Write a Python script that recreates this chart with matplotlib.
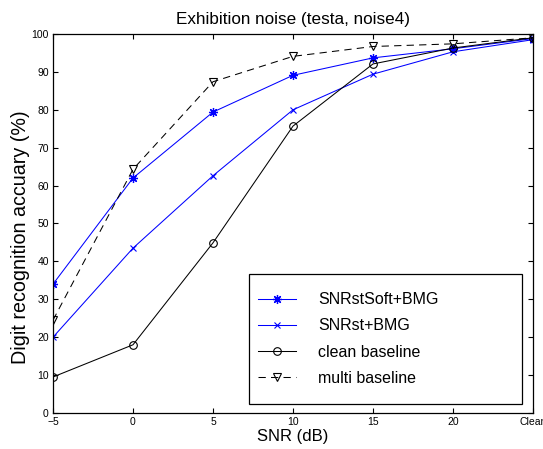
import matplotlib
matplotlib.use("Agg")
import matplotlib.pyplot as plt
from matplotlib.patches import Rectangle

plt.rcParams['font.family'] = ['Liberation Sans', 'DejaVu Sans']

snr_positions = [-5, 0, 5, 10, 15, 20, 25]
tick_labels = ['\u22125', '0', '5', '10', '15', '20', 'Clean']

snrst_soft_bmg = [34.0, 62.0, 79.4, 89.1, 93.7, 96.1, 98.8]
snrst_bmg = [20.0, 43.5, 62.6, 80.0, 89.4, 95.3, 98.5]
clean_baseline = [9.5, 18.0, 44.9, 75.7, 92.1, 96.3, 99.0]
multi_baseline = [24.5, 64.3, 87.4, 94.1, 96.7, 97.4, 99.0]

fig = plt.figure(figsize=(5.43, 4.49), dpi=100)
ax = fig.add_axes([0.0976, 0.0802, 0.884, 0.8441])

asterisk = (8, 2, 0)
lw = 0.75
ax.plot(snr_positions, snrst_soft_bmg, color='blue', marker=asterisk, ms=6.5,
        lw=lw, mew=0.9, label='SNRstSoft+BMG')
ax.plot(snr_positions, snrst_bmg, color='blue', marker='x', ms=4.5, lw=lw,
        mew=0.8, label='SNRst+BMG')
ax.plot(snr_positions, clean_baseline, color='black', marker='o', ms=5.5,
        lw=lw, mew=0.8, mfc='none', label='clean baseline')
ax.plot(snr_positions, multi_baseline, color='black', marker='v', ms=6,
        lw=lw, mew=0.8, mfc='none', ls=(0, (7, 5)), label='multi baseline')

ax.set_xlim(-5, 25)
ax.set_ylim(0, 100)
ax.set_xticks(snr_positions)
ax.set_xticklabels(tick_labels)
ax.set_yticks(range(0, 101, 10))
ax.tick_params(direction='in', top=True, right=True, length=3.5, width=0.8,
               labelsize=7.5, pad=3)
for s in ax.spines.values():
    s.set_linewidth(0.9)

ax.set_title('Exhibition noise (testa, noise4)', fontsize=12.3, pad=7)
ax.set_xlabel('SNR (dB)', fontsize=12, labelpad=1)
ax.set_ylabel('Digit recognition accuary (%)', fontsize=14.2)
ax.yaxis.set_label_coords(-0.048, 0.464)

# legend box (frame drawn separately so its padding can differ per side)
box_x0, box_y0, box_w, box_h = 0.408, 0.0237, 0.569, 0.343
ax.add_patch(Rectangle((box_x0, box_y0), box_w, box_h, transform=ax.transAxes,
                       facecolor='white', edgecolor='black', lw=0.9,
                       zorder=4))
leg = ax.legend(loc='center left',
                bbox_to_anchor=(box_x0, box_y0, box_w, box_h),
                fontsize=11.5, frameon=False, handlelength=2.4,
                borderpad=0.55, labelspacing=0.7, handletextpad=1.4,
                borderaxespad=0)
leg.set_zorder(5)

fig.savefig('out.png', dpi=100)
